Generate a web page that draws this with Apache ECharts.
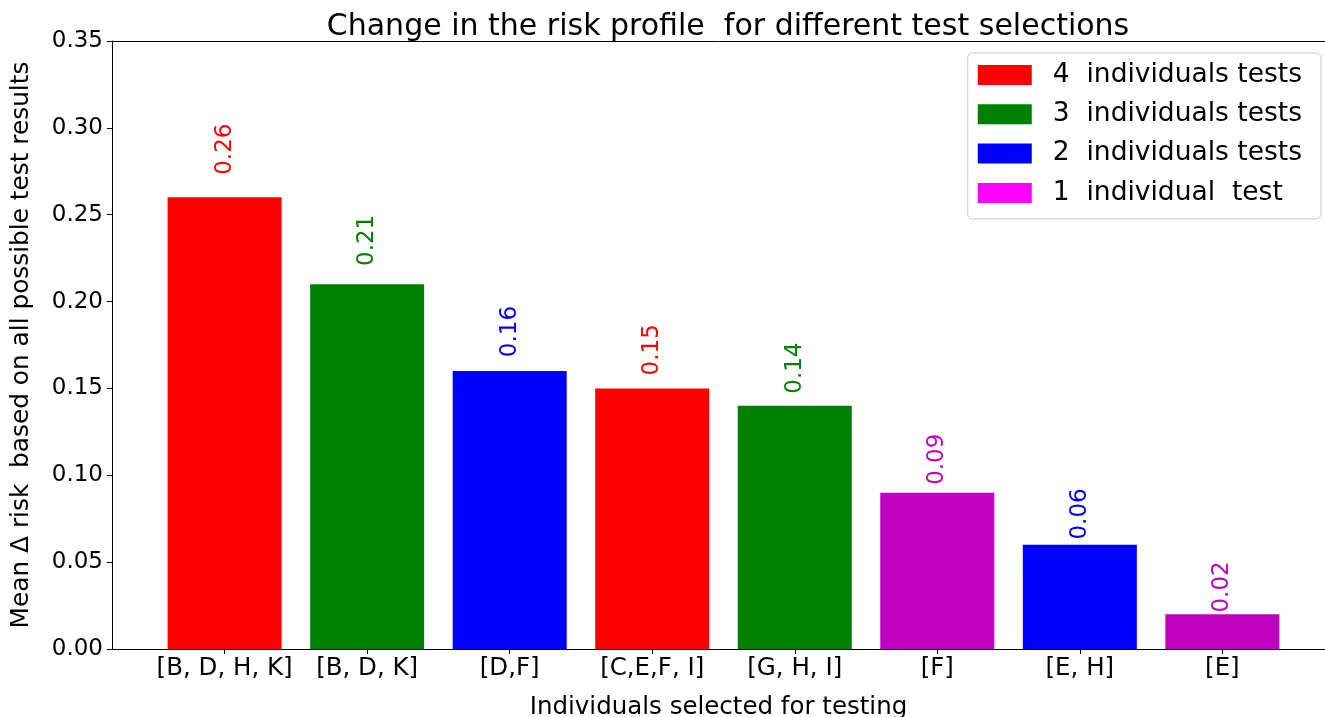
<!DOCTYPE html>
<html>
<head>
<meta charset="utf-8">
<script src="https://cdn.jsdelivr.net/npm/echarts@6/dist/echarts.min.js"></script>
<style>
html,body{margin:0;padding:0;background:#fff;}
#chart{width:1325px;height:717px;}
</style>
</head>
<body>
<div id="chart"></div>
<script>
// ---- data ----
var categories = ['[B, D, H, K]', '[B, D, K]', '[D,F]', '[C,E,F, I]', '[G, H, I]', '[F]', '[E, H]', '[E]'];
var values = [0.26, 0.21, 0.16, 0.15, 0.14, 0.09, 0.06, 0.02];
var groupOf = [4, 3, 2, 4, 3, 1, 2, 1];
var groupKeys = [4, 3, 2, 1];
var groupNames = ['4  individuals tests', '3  individuals tests', '2  individuals tests', '1  individual  test'];
var groupColors = ['#ff0000', '#008000', '#0000ff', '#bf00bf'];
var legendColors = ['#ff0000', '#008000', '#0000ff', '#ff00ff'];
var yTicks = [0, 0.05, 0.10, 0.15, 0.20, 0.25, 0.30, 0.35];

// ---- layout ----
var FONT = 'DejaVu Sans';
var gridLeft = 112, gridRight = 0, gridTop = 41, gridBottom = 68;
var W = 1325, H = 717;
var xMin = -0.79, xMax = 7.72;
var yMax = 0.35;
var pxPerX = (W - gridLeft - gridRight) / (xMax - xMin);
var pxPerY = (H - gridTop - gridBottom) / yMax;
var barW = 0.8 * pxPerX;

var idx = categories.map(function (c, i) { return i; });

var series = groupKeys.map(function (g, k) {
  var data = [];
  for (var i = 0; i < values.length; i++) {
    if (groupOf[i] === g) {
      data.push({
        value: [i, values[i]],
        label: { distance: 0.05 * values[i] * pxPerY }
      });
    }
  }
  return {
    name: groupNames[k],
    type: 'bar',
    xAxisIndex: 0,
    data: data,
    barWidth: barW,
    barGap: '-100%',
    itemStyle: { color: groupColors[k] },
    label: {
      show: true,
      position: 'top',
      rotate: 90,
      align: 'left',
      verticalAlign: 'middle',
      color: groupColors[k],
      fontFamily: FONT,
      fontSize: 23,
      formatter: function (p) { return p.value[1].toFixed(2); }
    },
    emphasis: { disabled: true },
    animation: false
  };
});

var chart = echarts.init(document.getElementById('chart'), null, { renderer: 'canvas' });
chart.setOption({
  animation: false,
  backgroundColor: '#ffffff',
  title: {
    text: 'Change in the risk profile  for different test selections',
    left: 723,
    top: 7,
    textAlign: 'center',
    textStyle: { fontFamily: FONT, fontSize: 30, fontWeight: 'normal', color: '#000' }
  },
  legend: {
    orient: 'vertical',
    right: 4,
    top: 53,
    itemWidth: 54,
    itemHeight: 20,
    itemGap: 9.3,
    padding: [7, 19, 11, 10],
    borderColor: '#cccccc',
    borderWidth: 1,
    borderRadius: 5,
    backgroundColor: 'rgba(255,255,255,0.8)',
    icon: 'rect',
    selectedMode: false,
    textStyle: { fontFamily: FONT, fontSize: 26.5, color: '#000', padding: [0, 0, 0, 16], lineHeight: 30 },
    data: groupNames.map(function (n, k) {
      return { name: n, itemStyle: { color: legendColors[k] } };
    })
  },
  grid: { left: gridLeft, right: gridRight, top: gridTop, bottom: gridBottom, containLabel: false, outerBoundsMode: 'none' },
  xAxis: [{
    type: 'value',
    min: xMin,
    max: xMax,
    name: 'Individuals selected for testing',
    nameLocation: 'middle',
    nameGap: 46,
    nameTextStyle: { fontFamily: FONT, fontSize: 24.5, color: '#000' },
    axisLine: { show: true, onZero: false, lineStyle: { color: '#000', width: 1 } },
    axisTick: { show: true, inside: false, length: 5, lineStyle: { color: '#000' }, customValues: idx },
    axisLabel: {
      customValues: idx,
      fontFamily: FONT, fontSize: 24.5, color: '#000', margin: 7,
      formatter: function (v) { return categories[Math.round(v)]; }
    },
    splitLine: { show: false }
  }, {
    type: 'value',
    position: 'top',
    min: xMin,
    max: xMax,
    axisLine: { show: true, onZero: false, lineStyle: { color: '#000', width: 1 } },
    axisTick: { show: false },
    axisLabel: { show: false },
    splitLine: { show: false }
  }],
  yAxis: {
    type: 'value',
    min: 0,
    max: yMax,
    interval: 0.05,
    name: 'Mean \u0394 risk  based on all possible test results',
    nameLocation: 'middle',
    nameGap: 78,
    nameTextStyle: { fontFamily: FONT, fontSize: 24.8, color: '#000' },
    axisLine: { show: true, onZero: false, lineStyle: { color: '#000', width: 1 } },
    axisTick: { show: true, inside: false, length: 5, lineStyle: { color: '#000' } },
    axisLabel: {
      fontFamily: FONT, fontSize: 23, color: '#000', margin: 9,
      formatter: function (v) {
        var best = yTicks.reduce(function (a, b) { return Math.abs(b - v) < Math.abs(a - v) ? b : a; });
        return best.toFixed(2);
      }
    },
    splitLine: { show: false }
  },
  series: series
});
</script>
</body>
</html>
